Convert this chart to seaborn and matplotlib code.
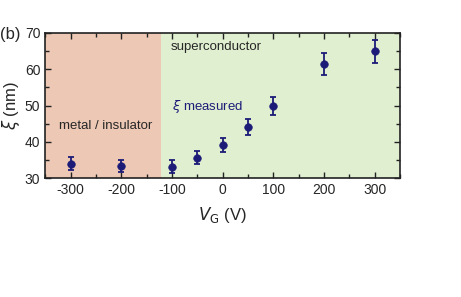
import numpy as np
import pandas as pd
import matplotlib
matplotlib.use('Agg')
import matplotlib.pyplot as plt
from matplotlib.ticker import MultipleLocator
import seaborn as sns

# data
vg = [-300, -200, -100, -50, 0, 50, 100, 200, 300]
xi = [34.0, 33.3, 33.2, 35.7, 39.1, 44.2, 49.8, 61.5, 65.0]
xi_err = [1.8, 1.7, 1.7, 1.9, 2.0, 2.2, 2.5, 3.0, 3.2]
boundary = -122

df = pd.DataFrame({'VG': vg, 'xi': xi, 'err': xi_err})

sns.set_theme(style='ticks')
plt.rcParams['font.family'] = ['Liberation Sans', 'DejaVu Sans']
plt.rcParams['axes.unicode_minus'] = False

navy = '#1c1c78'
fig = plt.figure(figsize=(4.61, 2.97), dpi=100)
ax = fig.add_axes([0.098, 0.40, 0.77, 0.489])
ax.set_axisbelow(False)  # keep the inward ticks above the shaded regions

ax.axvspan(-350, boundary, color='#edc8b4', lw=0)
ax.axvspan(boundary, 350, color='#e0efd0', lw=0)

ax.errorbar(df['VG'], df['xi'], yerr=df['err'], fmt='none', ecolor=navy,
            elinewidth=1.3, capsize=2.5, capthick=1.3, zorder=3)
sns.scatterplot(data=df, x='VG', y='xi', ax=ax, color=navy, s=30,
                edgecolor=navy, zorder=4, legend=False)

ax.set_xlim(-350, 350)
ax.set_ylim(30, 70)
ax.xaxis.set_major_locator(MultipleLocator(100))
ax.xaxis.set_minor_locator(MultipleLocator(50))
ax.yaxis.set_major_locator(MultipleLocator(10))
ax.yaxis.set_minor_locator(MultipleLocator(5))
ax.tick_params(which='both', direction='in', top=True, right=True,
               labelsize=10, color='#222222')
ax.tick_params(which='major', length=4, width=1)
ax.tick_params(which='minor', length=3, width=1)
for s in ax.spines.values():
    s.set_linewidth(1.2)
    s.set_color('#222222')

ax.set_xlabel(r'$V_{\mathrm{G}}$ (V)', fontsize=12, labelpad=6)
ax.set_ylabel(r'$\xi$ (nm)', fontsize=12, labelpad=2)

ax.text(-12, 66.0, 'superconductor', fontsize=9.5, ha='center', va='center')
ax.text(-230, 44.5, 'metal / insulator', fontsize=9.5, ha='center', va='center')
ax.text(-30, 49.7, r'$\xi$ measured', fontsize=9.5, ha='center', va='center',
        color=navy)
fig.text(0.0, 0.885, '(b)', fontsize=12, ha='left', va='center')

fig.savefig('out.png', dpi=100)
